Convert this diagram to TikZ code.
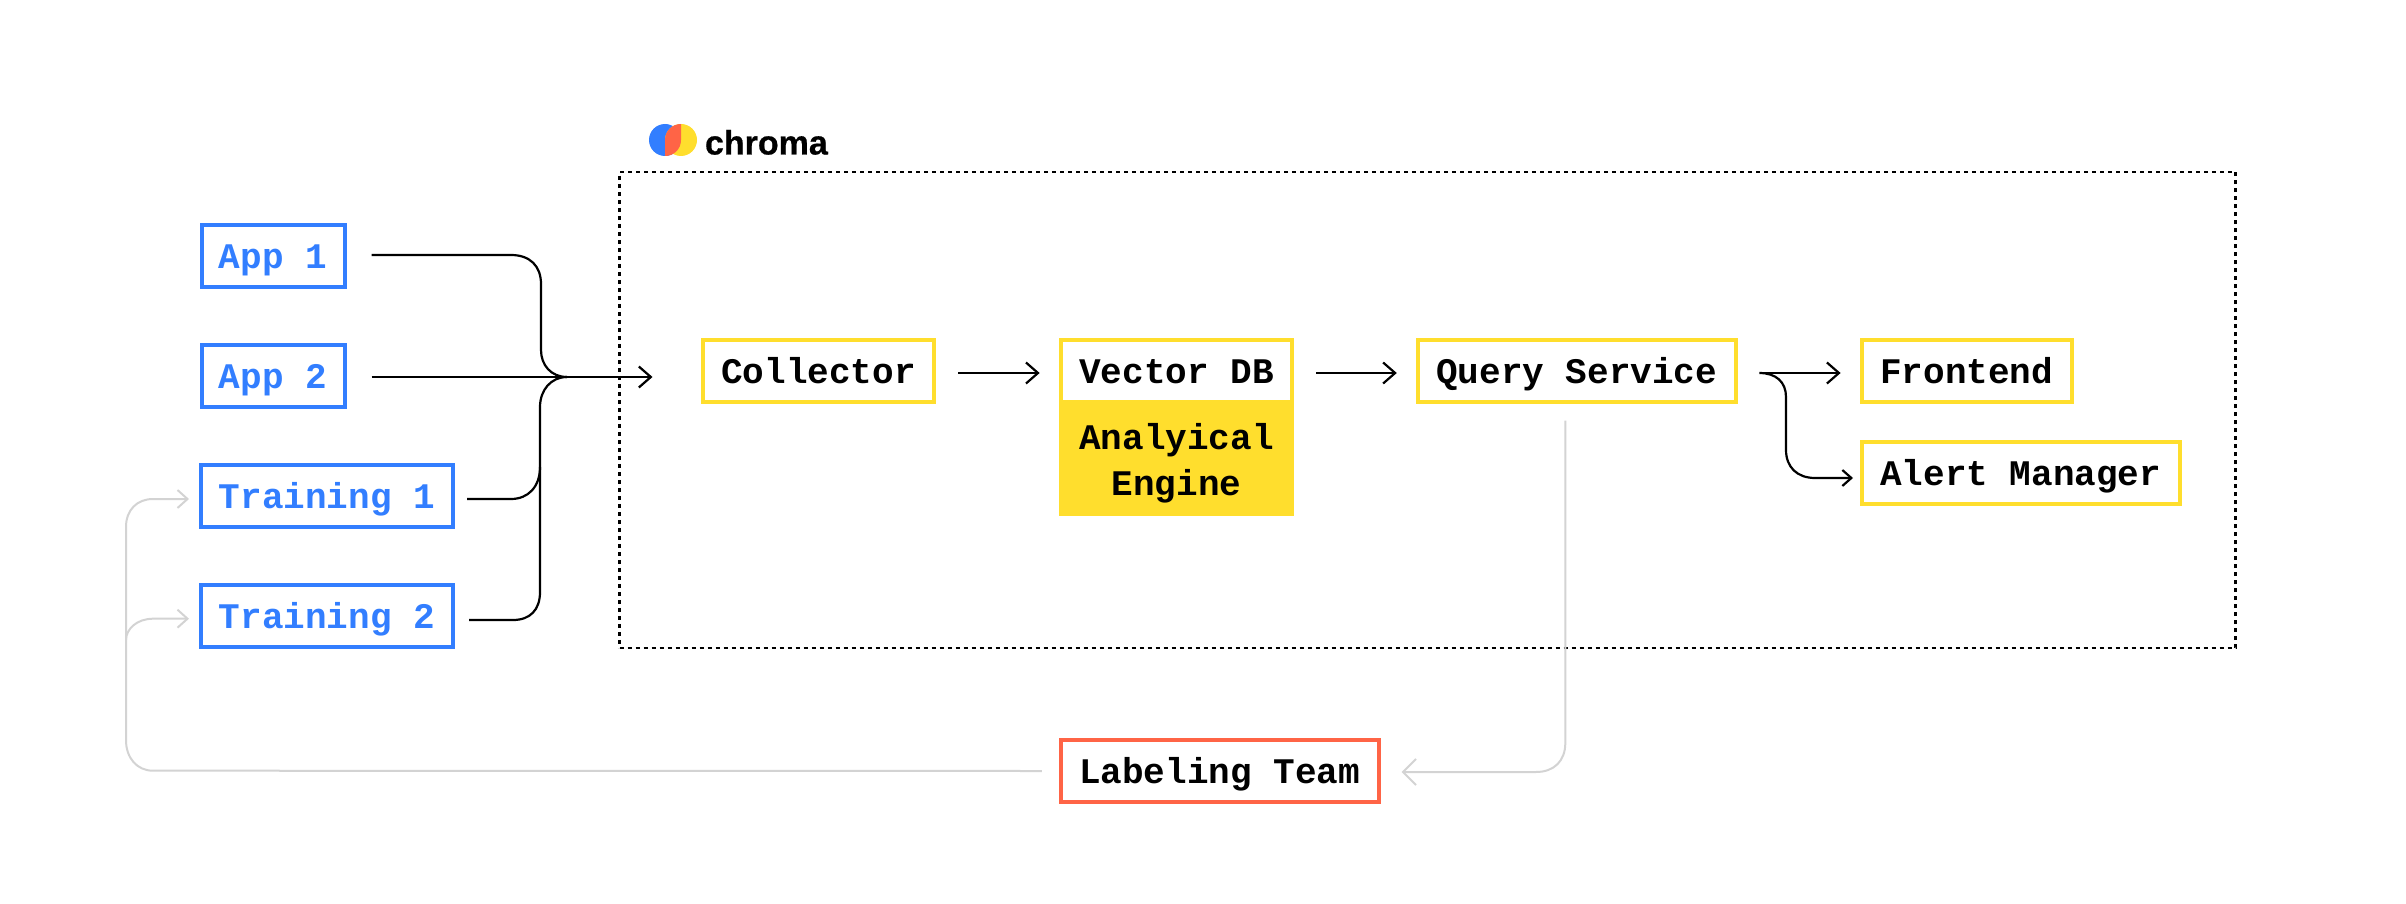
\documentclass[tikz,border=0pt]{standalone}
\usepackage{fontspec}
\setmonofont{Liberation Mono}
\newfontfamily\logofont{Liberation Sans}[BoldFeatures={FakeBold=0.6}]
\usetikzlibrary{arrows.meta}
\definecolor{cblue}{HTML}{327EFF}
\definecolor{cyellow}{HTML}{FFDE2D}
\definecolor{cred}{HTML}{FF6446}
\definecolor{cgrey}{HTML}{D3D3D3}

\begin{document}
\begin{tikzpicture}[x=1pt, y=-1pt, >={Straight Barb[length=12pt, width=21pt]}]
        \tikzstyle{every node}=[inner sep=0pt, outer sep=0pt, align=center, line width=4pt,
                                font=\fontsize{36}{46}\selectfont\ttfamily\bfseries]
        \tikzstyle{box}=[draw, minimum height=62pt, text height=25pt, text depth=0pt]
        \tikzstyle{source}=[box, draw=cblue, text=cblue]
        \tikzstyle{part}=[box, draw=cyellow]
        \tikzstyle{wire}=[line width=2.2pt]
        \tikzstyle{back}=[line width=2pt, cgrey]

        \useasboundingbox (0,0) rectangle (2406,904);

        \node (frame) [draw, line width=2.4pt, dash pattern=on 4pt off 4pt, minimum width=1616pt, minimum height=476pt] at (1427.5,410) {};

        % logo
        \fill[cblue] (665,140) circle (16pt);
        \fill[cyellow] (681,140) circle (16pt);
        \fill[cred] (681,124) .. controls (672,124) and (665,131) .. (665,140) -- (665,156) .. controls (674,156) and (681,149) .. (681,140) -- cycle;
        \node (logo) [anchor=base west, font=\fontsize{34}{34}\selectfont\logofont\bfseries] at (705,154.5) {chroma};

        \node (app1)   [source, minimum width=143pt] at (273,256) {App 1};
        \node (app2)   [source, minimum width=143pt] at (273,376) {App 2};
        \node (train1) [source, minimum width=252pt] at (327,496) {Training 1};
        \node (train2) [source, minimum width=252pt] at (327,616) {Training 2};

        \node (coll)  [part, minimum width=231pt] at (818.5,371) {Collector};
        \node (eng)   [fill=cyellow, minimum width=235.7pt, minimum height=115.7pt] at (1176.5,457.8) {\rule{0pt}{38pt}Analyical\\Engine};
        \node (vec)   [part, minimum width=231.7pt] at (1176.5,371) {Vector DB};
        \node (query) [part, minimum width=318pt] at (1576.8,371) {Query Service};
        \node (front) [part, minimum width=210pt] at (1966.6,371) {Frontend};
        \node (alert) [part, minimum width=318pt] at (2020.6,473) {Alert Manager};
        \node (team)  [box, draw=cred, minimum width=318pt] at (1219.6,771) {Labeling Team};

        \coordinate (merge) at (567,377);

        % into the collector
        \draw[wire] ([yshift=1pt]app1.east) ++(27,0) -- (511,255) .. controls (530,255) and (541,266) .. (541,284) -- (541,350) .. controls (541,365) and (551,377) .. (merge);
        \draw[wire] ([yshift=-3pt]train1.east) ++(14,0) -- (511,499) .. controls (528,499) and (540,487) .. (540,467);
        \draw[wire] ([yshift=-4pt]train2.east) ++(16,0) -- (513,620) .. controls (530,620) and (540,610) .. (540,592) -- (540,407) .. controls (540,390) and (551,377) .. (merge);
        \draw[wire, ->] ([yshift=-1pt]app2.east) ++(27,0) -- ([yshift=-6pt, xshift=-50.5pt]coll.west);

        \path[wire, ->, shorten <=24pt, shorten >=21pt] ([yshift=-2pt]coll.east) edge ([yshift=-2pt]vec.west)
                       ([yshift=-2pt]vec.east) edge ([yshift=-2pt]query.west)
                       ([yshift=-2pt]query.east) edge ([yshift=-2pt]front.west);

        \draw[wire, ->, >={Straight Barb[length=9pt, width=16pt]}] ([yshift=-2pt]query.east) ++(23.5,0) .. controls (1776,373) and (1786,382) .. (1786,397) -- (1786,450) .. controls (1786,467) and (1797,478) .. (1815,478) -- ([yshift=-5pt, xshift=-8.6pt]alert.west);

        % back to training
        \draw[back, ->, >={Straight Barb[length=13pt, width=26pt]}] ([xshift=-11.5pt, yshift=-18.7pt]query.south) -- (1565.3,743) .. controls (1565.3,761) and (1554,772) .. (1536,772) -- ([xshift=23pt, yshift=-1pt]team.east);
        \draw[back, ->, >={Straight Barb[length=10pt, width=18pt]}] ([xshift=-18.7pt]team.west) -- (153,770.7) .. controls (137,770.7) and (126,758) .. (126,740) -- (126,527) .. controls (126,510) and (137,499) .. (153,499) -- ([xshift=-12pt, yshift=-3pt]train1.west);
        \draw[back, ->, >={Straight Barb[length=10pt, width=18pt]}] (126,640) .. controls (126,629) and (137,618.7) .. (153,618.7) -- ([xshift=-12pt, yshift=-2.7pt]train2.west);
\end{tikzpicture}
\end{document}
